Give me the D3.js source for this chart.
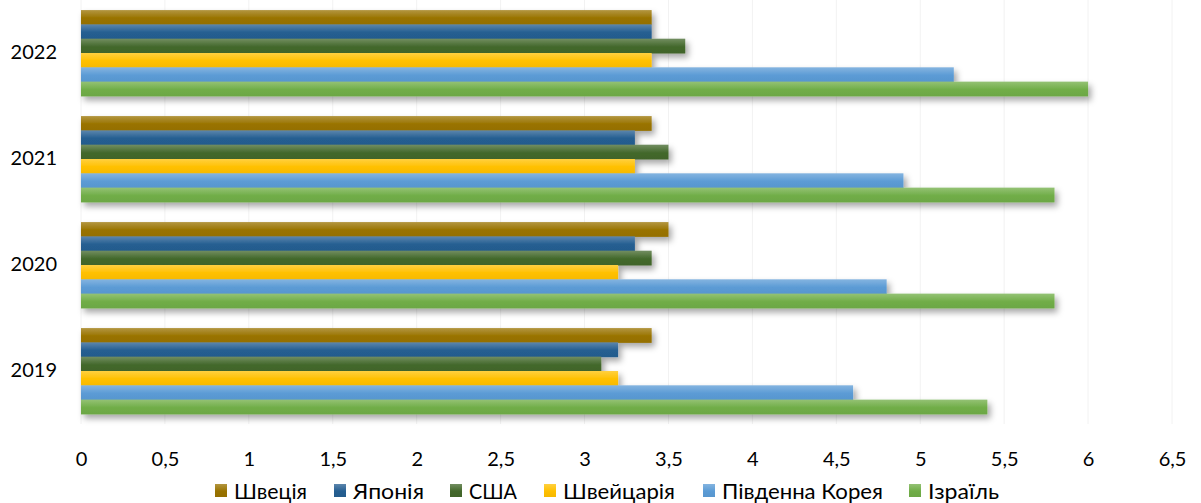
<!DOCTYPE html>
<html>
<head>
<meta charset="utf-8">
<script src="https://cdn.jsdelivr.net/npm/d3@7"></script>
<style>
  body { margin: 0; background: #fff; }
  svg { display: block; }
  text { font-family: "Lato", "Open Sans", sans-serif; fill: #000; }
</style>
</head>
<body>
<div id="chart"></div>
<script>
// categories bottom -> top, series top -> bottom within a group
const years = ["2019", "2020", "2021", "2022"];
const series = ["Швеція", "Японія", "США", "Швейцарія", "Південна Корея", "Ізраїль"];
const colors = ["#997300", "#255e91", "#43682b", "#ffc000", "#5b9bd5", "#70ad47"];

const sweden      = [3.4, 3.5, 3.4, 3.4];
const japan       = [3.2, 3.3, 3.3, 3.4];
const usa         = [3.1, 3.4, 3.5, 3.6];
const switzerland = [3.2, 3.2, 3.3, 3.4];
const korea       = [4.6, 4.8, 4.9, 5.2];
const israel      = [5.4, 5.8, 5.8, 6.0];
const values = [sweden, japan, usa, switzerland, korea, israel];

const xTicks = d3.range(0, 6.51, 0.5);

const width = 1201, height = 503;
const margin = { left: 81, right: 29, top: 0, bottom: 79 };

const svg = d3.select("#chart").append("svg")
  .attr("width", width)
  .attr("height", height);

const defs = svg.append("defs");

// soft drop shadow like the office chart
const shadow = defs.append("filter")
  .attr("id", "shadow")
  .attr("x", "-5%").attr("y", "-20%")
  .attr("width", "115%").attr("height", "150%");
shadow.append("feDropShadow")
  .attr("dx", 3).attr("dy", 4)
  .attr("stdDeviation", 3)
  .attr("flood-color", "#000")
  .attr("flood-opacity", 0.35);

// vertical gradient per series
colors.forEach((c, i) => {
  const g = defs.append("linearGradient")
    .attr("id", "grad" + i)
    .attr("x1", 0).attr("y1", 0).attr("x2", 0).attr("y2", 1);
  g.append("stop").attr("offset", "0%").attr("stop-color", d3.interpolateRgb(c, "#fff")(0.25));
  g.append("stop").attr("offset", "55%").attr("stop-color", c);
  g.append("stop").attr("offset", "100%").attr("stop-color", d3.color(c).darker(0.1));
});

const x = d3.scaleLinear()
  .domain([0, 6.5])
  .range([margin.left, width - margin.right]);

const y = d3.scaleBand()
  .domain(years.slice().reverse())
  .range([margin.top, height - margin.bottom])
  .paddingInner(0.19)
  .paddingOuter(0.095);

const ySub = d3.scaleBand()
  .domain(d3.range(series.length))
  .range([0, y.bandwidth()]);

// faint gridlines
svg.append("g")
  .selectAll("line")
  .data(xTicks)
  .join("line")
    .attr("x1", d => x(d)).attr("x2", d => x(d))
    .attr("y1", margin.top).attr("y2", height - margin.bottom)
    .attr("stroke", "#f2f2f2")
    .attr("stroke-width", 1);

// bar groups
const groups = svg.append("g")
  .selectAll("g")
  .data(years)
  .join("g")
    .attr("transform", d => `translate(0,${y(d)})`)
    .attr("filter", "url(#shadow)");

groups.selectAll("rect")
  .data((yr, yi) => series.map((s, si) => ({ si, v: values[si][yi] })))
  .join("rect")
    .attr("x", x(0))
    .attr("y", d => ySub(d.si))
    .attr("width", d => x(d.v) - x(0))
    .attr("height", ySub.bandwidth() + 0.5)
    .attr("fill", d => `url(#grad${d.si})`);

// x axis labels
const xAxis = d3.axisBottom(x)
  .tickValues(xTicks)
  .tickSize(0)
  .tickPadding(0)
  .tickFormat(d => String(d).replace(".", ","));

svg.append("g")
  .attr("transform", `translate(0,${height - margin.bottom + 28})`)
  .call(xAxis)
  .call(g => g.select(".domain").remove())
  .call(g => g.selectAll("text")
    .attr("font-family", "Lato, sans-serif")
    .attr("font-size", 20)
    .attr("fill", "#000"));

// y axis labels
const yAxis = d3.axisLeft(y).tickSize(0).tickPadding(24);
svg.append("g")
  .attr("transform", `translate(${margin.left},0)`)
  .call(yAxis)
  .call(g => g.select(".domain").remove())
  .call(g => g.selectAll("text")
    .attr("font-family", "Lato, sans-serif")
    .attr("font-size", 20)
    .attr("fill", "#000"));

// legend (condensed text, as in the original)
const legendStarts = [215, 334, 450, 544, 703, 909];
const legendWidths = [73, 71, 48, 112, 161, 71];
const legend = svg.append("g")
  .attr("transform", "translate(0,491)");

const items = legend.selectAll("g")
  .data(series)
  .join("g")
    .attr("transform", (d, i) => `translate(${legendStarts[i]},0)`);

items.append("rect")
  .attr("x", 0).attr("y", -7)
  .attr("width", 12).attr("height", 13)
  .attr("fill", (d, i) => `url(#grad${i})`);

items.append("text")
  .attr("x", 19)
  .attr("y", 0)
  .attr("dy", "0.35em")
  .attr("font-size", 22)
  .attr("textLength", (d, i) => legendWidths[i])
  .attr("lengthAdjust", "spacingAndGlyphs")
  .text(d => d);
</script>
</body>
</html>
